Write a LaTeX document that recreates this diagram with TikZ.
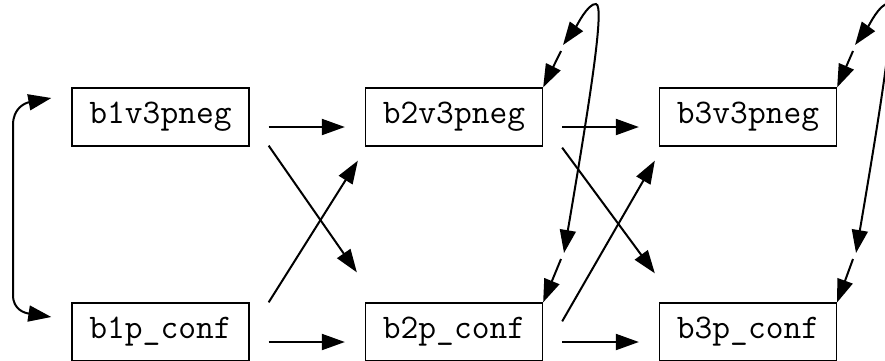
\documentclass[tikz,border=0pt]{standalone}
\usepackage{fontspec}
\usetikzlibrary{arrows.meta}

\begin{document}
\begin{tikzpicture}[x=1pt,y=-1pt]
	\useasboundingbox (0,0) rectangle (885,360);
	\clip (0,0) rectangle (885,360);

	\begin{scope}[every node/.style={rectangle,draw,line width=1.3pt,minimum width=177pt,minimum height=58pt,
	              font=\ttfamily\fontsize{34.5}{40}\selectfont}]
		\node (b1v) at (160.5,117) {b1v3pneg};
		\node (b2v) at (454,117) {b2v3pneg};
		\node (b3v) at (748,117) {b3v3pneg};
		\node (b1p) at (160.5,332) {b1p\_conf};
		\node (b2p) at (454,332) {b2p\_conf};
		\node (b3p) at (748,332) {b3p\_conf};
	\end{scope}

	% free ends of the loops
	\coordinate (t2) at (563,45);
	\coordinate (s2) at (564,253);
	\coordinate (a2) at (561,51);
	\coordinate (d2) at (561,259);
	\coordinate (t3) at (855,45);
	\coordinate (s3) at (856,253);
	\coordinate (a3) at (853,51);
	\coordinate (d3) at (853,259);

	\begin{scope}[>={Triangle[length=23pt,width=16pt]},
	              every edge/.style={draw=black,line width=2pt}]
		\path ([shift={(19,10)}]b1v.east) edge[->] ([shift={(-20,10)}]b2v.west);
		\path ([shift={(19,10)}]b1p.east) edge[->] ([shift={(-20,10)}]b2p.west);
		\path ([shift={(19,10)}]b2v.east) edge[->] ([shift={(-20,10)}]b3v.west);
		\path ([shift={(19,10)}]b2p.east) edge[->] ([shift={(-20,10)}]b3p.west);
		\path ([shift={(19,-1)}]b1v.south east) edge[->] ([shift={(-8,-30)}]b2p.north west);
		\path ([shift={(19,0)}]b1p.north east) edge[->] ([shift={(-7,14)}]b2v.south west);
		\path ([shift={(19,1)}]b2v.south east) edge[->] ([shift={(-4,-29)}]b3p.north west);
		\path ([shift={(19,19)}]b2p.north east) edge[->] ([shift={(-4,14)}]b3v.south west);
		\path (a2) edge[->] (b2v.north east);
		\path (d2) edge[->] (b2p.north east);
		\path (a3) edge[->] (b3v.north east);
		\path (d3) edge[->] (b3p.north east);

		\draw[<->,line width=2pt] ([shift={(-20,-19)}]b1v.west) .. controls (25,103) and (13,108) .. (13,125)
			-- (13,295) .. controls (13,310) and (25,313) .. ([shift={(-20,-15)}]b1p.west);
		\draw[<->,line width=2pt] (s2) .. controls (590,100) and (605,5) .. (596,4)
			.. controls (588,3) and (576,27) .. (t2);
		\draw[<->,line width=2pt] (s3) .. controls (882,100) and (897,5) .. (888,4)
			.. controls (880,3) and (868,27) .. (t3);
	\end{scope}
\end{tikzpicture}
\end{document}
